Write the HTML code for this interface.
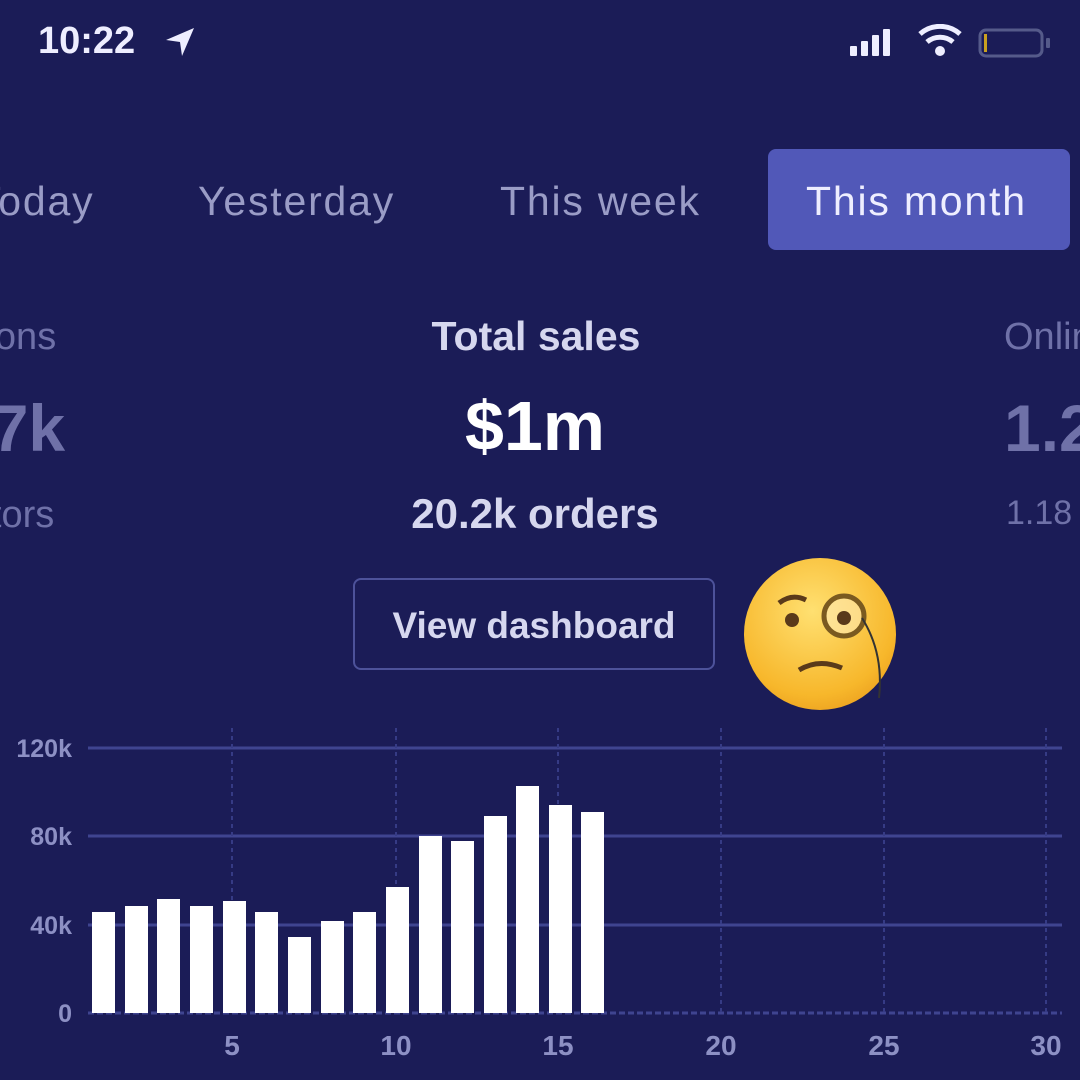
<!DOCTYPE html>
<html><head><meta charset="utf-8"><style>
html,body{margin:0;padding:0}
body{width:1080px;height:1080px;background:#1b1c57;position:relative;overflow:hidden;font-family:"Liberation Sans",sans-serif}
.t{position:absolute;white-space:nowrap;line-height:1}
.tab{font-size:41px;letter-spacing:1.8px}
</style></head><body>
<div class="t" style="left:38px;top:22px;font-size:38px;font-weight:bold;color:#eef">10:22</div>
<svg style="position:absolute;left:164px;top:26px" width="32" height="32"><polygon points="30,2 2,14 16,16 18,30" fill="#eef"/></svg>
<svg style="position:absolute;left:850px;top:24px" width="210" height="36">
<rect x="0" y="22" width="7" height="10" rx="1" fill="#eef"/><rect x="11" y="17" width="7" height="15" rx="1" fill="#eef"/><rect x="22" y="11" width="7" height="21" rx="1" fill="#eef"/><rect x="33" y="5" width="7" height="27" rx="1" fill="#eef"/>
<path d="M70 10 A30 30 0 0 1 110 10" stroke="#eef" stroke-width="5" fill="none"/><path d="M77 18 A20 20 0 0 1 103 18" stroke="#eef" stroke-width="5" fill="none"/><circle cx="90" cy="27" r="5" fill="#eef"/>
<rect x="130" y="6" width="62" height="26" rx="6" stroke="#555a8a" stroke-width="3" fill="none"/><rect x="196" y="14" width="4" height="10" rx="1" fill="#555a8a"/><rect x="134" y="10" width="3" height="18" fill="#c9a020"/>
</svg>
<div class="t tab" style="left:-24px;top:181px;color:#9a9cc6">Today</div>
<div class="t tab" style="left:198px;top:181px;color:#9a9cc6">Yesterday</div>
<div class="t tab" style="left:500px;top:181px;color:#9a9cc6">This week</div>
<div style="position:absolute;left:768px;top:149px;width:302px;height:101px;background:#5158b8;border-radius:8px"></div>
<div class="t tab" style="left:806px;top:181px;color:#eef">This month</div>
<div class="t" style="left:-98px;top:318px;font-size:38px;color:#6f71a8">Sessions</div>
<div class="t" style="left:-45px;top:395px;font-size:66px;font-weight:bold;color:#6f71a8">57k</div>
<div class="t" style="left:-64px;top:496px;font-size:38px;color:#6f71a8">visitors</div>
<div class="t" style="left:1004px;top:318px;font-size:38px;color:#6f71a8">Online</div>
<div class="t" style="left:1004px;top:395px;font-size:66px;font-weight:bold;color:#6f71a8">1.2</div>
<div class="t" style="left:1006px;top:496px;font-size:34px;color:#6f71a8">1.18</div>
<div class="t" style="left:0;width:1072px;text-align:center;top:316px;font-size:41px;font-weight:bold;color:#d6d7ef">Total sales</div>
<div class="t" style="left:0;width:1070px;text-align:center;top:391px;font-size:70px;font-weight:bold;color:#fff">$1m</div>
<div class="t" style="left:0;width:1070px;text-align:center;top:493px;font-size:42px;font-weight:bold;color:#d6d7ef">20.2k orders</div>
<div style="position:absolute;left:353px;top:578px;width:362px;height:92px;border:2px solid #4d529a;border-radius:8px;box-sizing:border-box"></div>
<div class="t" style="left:353px;width:362px;text-align:center;top:607px;font-size:37px;font-weight:bold;color:#d6d7ef">View dashboard</div>
<div style="position:absolute;left:744px;top:558px;width:152px;height:152px;border-radius:50%;background:radial-gradient(circle at 45% 35%,#ffe071,#f7b72b 65%,#e08a14)"></div>
<svg style="position:absolute;left:744px;top:558px" width="160" height="160">
<circle cx="48" cy="62" r="7" fill="#5a3a1a"/><path d="M35 45 Q48 35 62 42" stroke="#5a3a1a" stroke-width="5" fill="none"/>
<circle cx="100" cy="58" r="20" stroke="#7a5a20" stroke-width="5" fill="rgba(255,240,200,.5)"/><circle cx="100" cy="60" r="7" fill="#5a3a1a"/>
<path d="M55 112 Q75 100 98 110" stroke="#5a3a1a" stroke-width="5" fill="none"/><path d="M118 60 Q140 95 135 140" stroke="#333" stroke-width="2" fill="none"/>
</svg>
<svg style="position:absolute;left:0;top:0" width="1080" height="1080">
<g stroke="#3f4490" stroke-width="3">
<line x1="88" y1="748" x2="1062" y2="748"/><line x1="88" y1="836" x2="1062" y2="836"/><line x1="88" y1="925" x2="1062" y2="925"/><line x1="88" y1="1013" x2="1062" y2="1013" stroke-dasharray="6 3"/>
</g>
<g stroke="#363b85" stroke-width="2" stroke-dasharray="4 4">
<line x1="232" y1="728" x2="232" y2="1013"/><line x1="396" y1="728" x2="396" y2="1013"/><line x1="558" y1="728" x2="558" y2="1013"/><line x1="721" y1="728" x2="721" y2="1013"/><line x1="884" y1="728" x2="884" y2="1013"/><line x1="1046" y1="728" x2="1046" y2="1013"/>
</g>
<g fill="#fff">
<rect x="92" y="912" width="23" height="101"/><rect x="125" y="906" width="23" height="107"/><rect x="157" y="899" width="23" height="114"/><rect x="190" y="906" width="23" height="107"/><rect x="223" y="901" width="23" height="112"/><rect x="255" y="912" width="23" height="101"/><rect x="288" y="937" width="23" height="76"/><rect x="321" y="921" width="23" height="92"/><rect x="353" y="912" width="23" height="101"/><rect x="386" y="887" width="23" height="126"/><rect x="419" y="836" width="23" height="177"/><rect x="451" y="841" width="23" height="172"/><rect x="484" y="816" width="23" height="197"/><rect x="516" y="786" width="23" height="227"/><rect x="549" y="805" width="23" height="208"/><rect x="581" y="812" width="23" height="201"/>
</g>
<g fill="#8d90c4" font-family="Liberation Sans,sans-serif" font-size="25" font-weight="bold" text-anchor="end">
<text x="72" y="757">120k</text><text x="72" y="845">80k</text><text x="72" y="934">40k</text><text x="72" y="1022">0</text>
</g>
<g fill="#8d90c4" font-family="Liberation Sans,sans-serif" font-size="28" font-weight="bold" text-anchor="middle">
<text x="232" y="1055">5</text><text x="396" y="1055">10</text><text x="558" y="1055">15</text><text x="721" y="1055">20</text><text x="884" y="1055">25</text><text x="1046" y="1055">30</text>
</g>
</svg>
</body></html>
